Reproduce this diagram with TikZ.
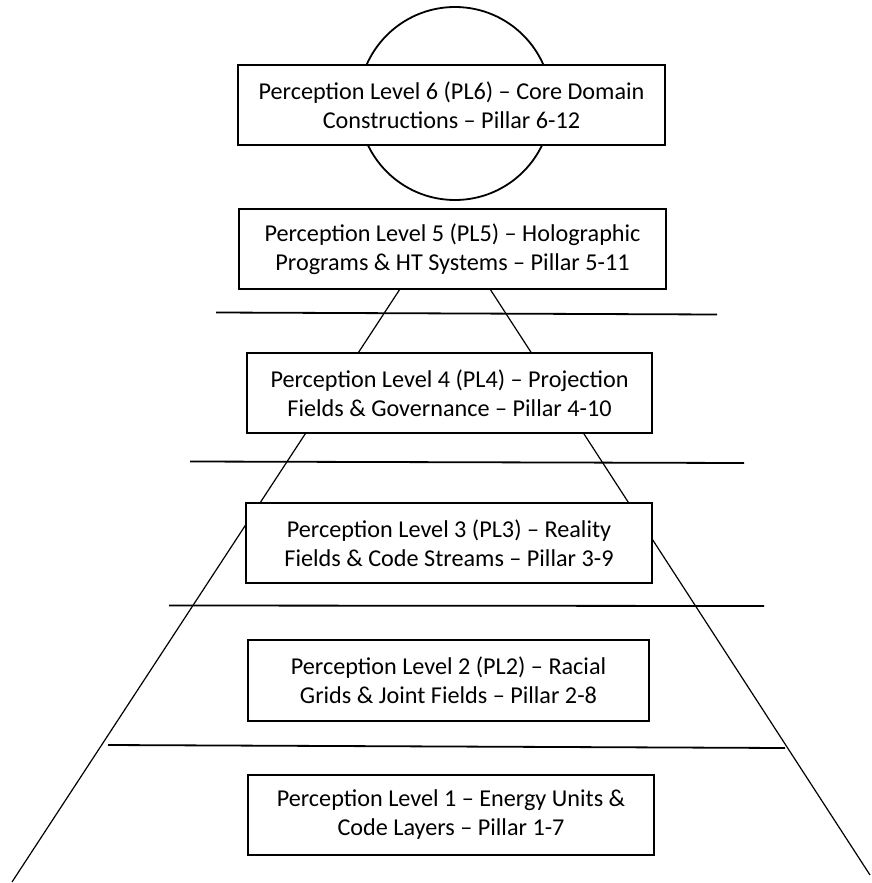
\documentclass[tikz,border=0pt]{standalone}
\usepackage{fontspec}
\setmainfont{Carlito}
\begin{document}
\begin{tikzpicture}[x=1pt,y=-1pt,
  lvl/.style={draw=black,line width=1.8pt,fill=white,align=center,inner sep=0pt,
    minimum height=80pt,font=\fontsize{24.2}{29}\selectfont},
  side/.style={draw=black,line width=1.2pt},
  sep/.style={draw=black,line width=1.8pt}]
\useasboundingbox (0,0) rectangle (871,883);
% pyramid sides (behind the boxes)
\coordinate (lt) at (400,289);
\coordinate (lb) at (12,882);
\coordinate (rt) at (490,289);
\coordinate (rb) at (870,875);
\draw[side] (lt) -- (lb);
\draw[side] (rt) -- (rb);
% separators
\coordinate (s1a) at (216,312.5); \coordinate (s1b) at (717,314.5);
\coordinate (s2a) at (190,461.5); \coordinate (s2b) at (744,463);
\coordinate (s3a) at (169,605.5); \coordinate (s3b) at (764,606);
\coordinate (s4a) at (108,745); \coordinate (s4b) at (785,748);
\draw[sep] (s1a) -- (s1b);
\draw[sep] (s2a) -- (s2b);
\draw[sep] (s3a) -- (s3b);
\draw[sep] (s4a) -- (s4b);
% circle
\node[draw=black,line width=1.8pt,circle,minimum size=193pt,inner sep=0pt] (top) at (455,103.5) {};
% boxes
\node[lvl,minimum width=427pt] (pl6) at (451.5,105) {Perception Level 6 (PL6) – Core Domain\\Constructions – Pillar 6-12};
\node[lvl,minimum width=427pt] (pl5) at (452.5,249) {Perception Level 5 (PL5) – Holographic\\Programs \& HT Systems – Pillar 5-11};
\node[lvl,minimum width=405pt] (pl4) at (449.5,393) {Perception Level 4 (PL4) – Projection\\Fields \& Governance – Pillar 4-10};
\node[lvl,minimum width=406pt] (pl3) at (449,543) {Perception Level 3 (PL3) – Reality\\Fields \& Code Streams – Pillar 3-9};
\node[lvl,minimum width=401pt,minimum height=81pt] (pl2) at (448.5,680.5) {Perception Level 2 (PL2) – Racial\\Grids \& Joint Fields – Pillar 2-8};
\node[lvl,minimum width=406pt] (pl1) at (451,815) {Perception Level 1 – Energy Units \&\\Code Layers – Pillar 1-7};
\end{tikzpicture}
\end{document}
